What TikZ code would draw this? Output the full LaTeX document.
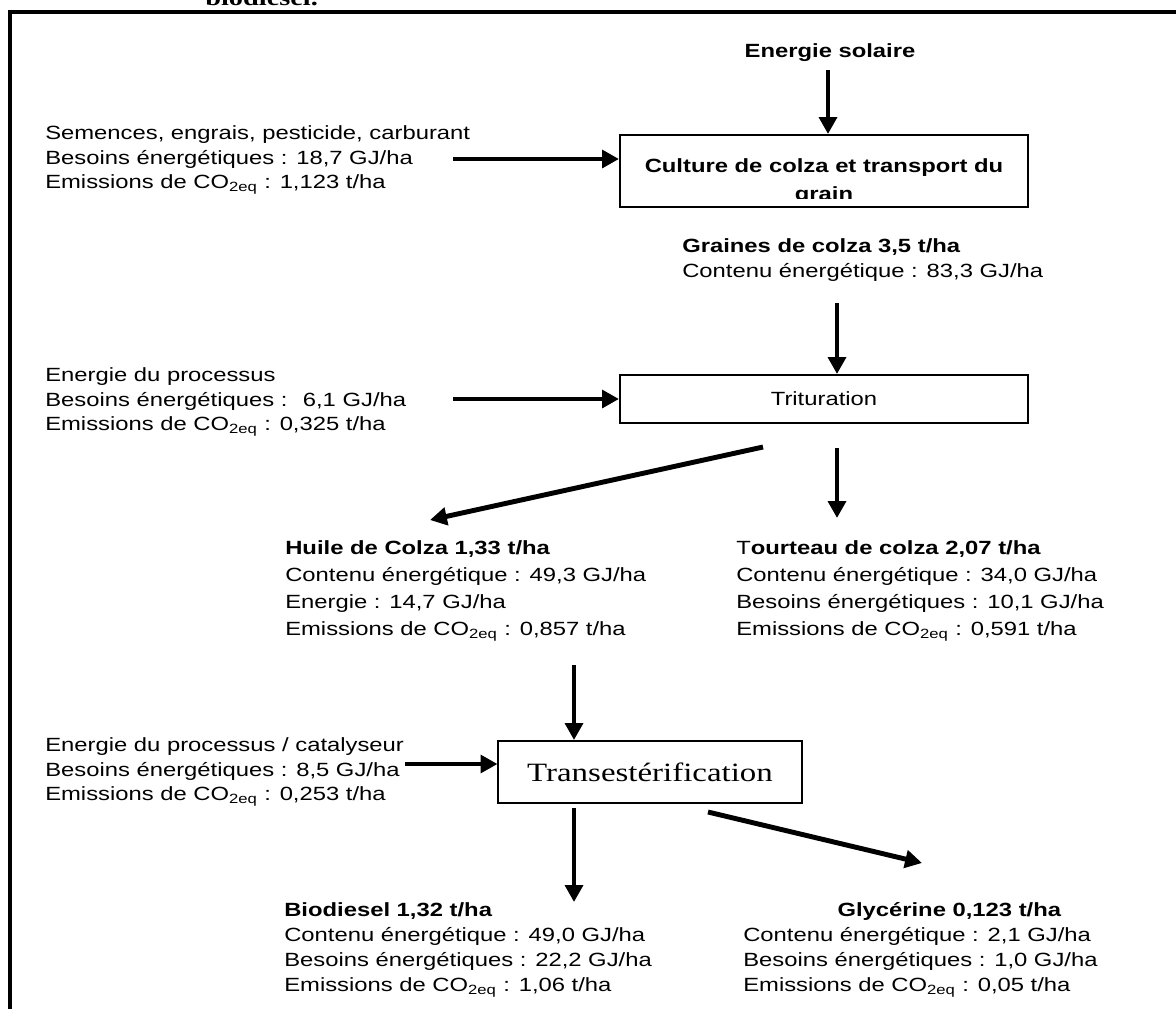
\documentclass[tikz,border=0pt]{standalone}
\usepackage{fontspec}
\setmainfont{Liberation Sans}[FakeStretch=1.245]
\newfontfamily\serifrm{Liberation Serif}[FakeStretch=1.245]
\usepackage{tikz}
\usetikzlibrary{arrows.meta,positioning}
\newcommand{\COeq}{CO\textsubscript{2eq}}

\begin{document}
\begin{tikzpicture}[x=0.025cm, y=-0.025cm,
  txt/.style={font=\fontsize{13.6}{17.7}\selectfont, align=left,
              inner sep=0pt, anchor=west},
  txtb/.style={txt, font=\fontsize{13.6}{19.1}\selectfont},
  hd/.style={font=\fontsize{13.6}{19.8}\selectfont\bfseries, inner sep=0pt},
  proc/.style={draw, line width=1.4pt, inner sep=0pt},
  fl/.style={line width=3.5pt, -{Triangle[length=12pt, width=12.5pt]}}
]
\useasboundingbox (0,0) rectangle (1176,1008);
% Frame
\draw[line width=2.3pt] (10,1030) -- (10,12) -- (1200,12);
\node[font=\fontsize{16.2}{18}\selectfont\serifrm\bfseries, anchor=base west,
      inner sep=0pt] (titre) at (205,5) {biodiesel.};
% Culture
\node[hd] (sol) at (830,53) {Energie solaire};
\node[proc, minimum width=10.2cm, minimum height=1.8cm,
      path picture={\clip ([yshift=6pt]path picture bounding box.south west)
          rectangle (path picture bounding box.north east);
        \node[hd, align=center] at ([yshift=-7.5pt]path picture bounding box.center)
          {Culture de colza et transport du\\grain};}] (cult) at (824,171) {};
\node[txt] (sem) at (45,160) {Semences, engrais, pesticide, carburant\\
  Besoins énergétiques : 18,7 GJ/ha\\Emissions de \COeq{} : 1,123 t/ha};
\coordinate (s1) at (828,70);
\coordinate (a1) at (453,159);
\draw[fl] (s1) -- (s1 |- cult.north);
\draw[fl] (a1) -- (a1 -| cult.west);
% Trituration
\node[txt] (grn) at (682,260) {\textbf{Graines de colza 3,5 t/ha}\\
  Contenu énergétique : 83,3 GJ/ha};
\node[proc, minimum width=10.2cm, minimum height=1.2cm,
      font=\fontsize{13.6}{17.7}\selectfont] (trit) at (824,399) {Trituration};
\node[txt] (proc1) at (45,402) {Energie du processus\\
  Besoins énergétiques :~ 6,1 GJ/ha\\Emissions de \COeq{} : 0,325 t/ha};
\coordinate (a2) at (453,399);
\coordinate (g1) at (837,303);
\draw[fl] (a2) -- (a2 -| trit.west);
\draw[fl] (g1) -- (g1 |- trit.north);
% Produits de la trituration
\node[txtb] (huile) at (285,591) {\textbf{Huile de Colza 1,33 t/ha}\\
  Contenu énergétique : 49,3 GJ/ha\\Energie : 14,7 GJ/ha\\
  Emissions de \COeq{} : 0,857 t/ha};
\node[txtb] (tourt) at (736,591) {T\textbf{ourteau de colza 2,07 t/ha}\\
  Contenu énergétique : 34,0 GJ/ha\\Besoins énergétiques : 10,1 GJ/ha\\
  Emissions de \COeq{} : 0,591 t/ha};
\coordinate (t1) at (763,447);
\coordinate (t2) at (837,448);
\coordinate (h1) at (430,520);
\coordinate (h2) at (837,518);
\draw[fl] (t1) -- (h1);
\draw[fl] (t2) -- (h2);
% Transesterification
\node[proc, minimum width=7.575cm, minimum height=1.55cm,
      font=\fontsize{18.8}{22}\selectfont\serifrm] (trans) at (650,772) {Transestérification};
\node[txt] (proc2) at (45,772) {Energie du processus / catalyseur\\
  Besoins énergétiques : 8,5 GJ/ha\\Emissions de \COeq{} : 0,253 t/ha};
\coordinate (a3) at (405,764);
\coordinate (h3) at (574,665);
\draw[fl] (a3) -- (a3 -| trans.west);
\draw[fl] (h3) -- (h3 |- trans.north);
% Produits finaux
\node[txt] (bio) at (284,950) {\textbf{Biodiesel 1,32 t/ha}\\
  Contenu énergétique : 49,0 GJ/ha\\Besoins énergétiques : 22,2 GJ/ha\\
  Emissions de \COeq{} : 1,06 t/ha};
\node[txt] (glyc) at (743,950) {\hspace*{67pt}\textbf{Glycérine 0,123 t/ha}\\
  Contenu énergétique : 2,1 GJ/ha\\Besoins énergétiques : 1,0 GJ/ha\\
  Emissions de \COeq{} : 0,05 t/ha};
\coordinate (b1) at (574,808);
\coordinate (b2) at (708,812);
\coordinate (b3) at (574,902);
\coordinate (b4) at (922,863);
\draw[fl] (b1) -- (b3);
\draw[fl] (b2) -- (b4);
\end{tikzpicture}
\end{document}
